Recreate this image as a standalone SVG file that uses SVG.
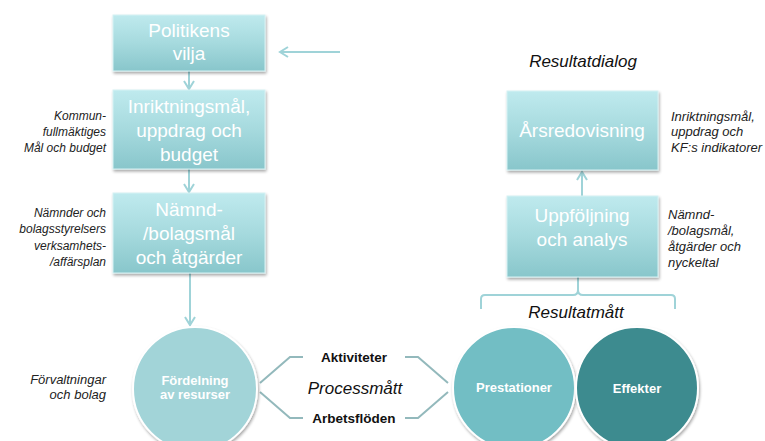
<svg xmlns="http://www.w3.org/2000/svg" width="765" height="441" viewBox="0 0 765 441">
<defs>
<linearGradient id="boxg" x1="0" y1="0" x2="0" y2="1">
<stop offset="0" stop-color="#bfeaee"/>
<stop offset="0.5" stop-color="#a6dade"/>
<stop offset="1" stop-color="#88c6cb"/>
</linearGradient>
<filter id="sh" x="-10%" y="-10%" width="125%" height="130%">
<feGaussianBlur in="SourceAlpha" stdDeviation="1.5"/>
<feOffset dx="1" dy="2" result="b"/>
<feComponentTransfer><feFuncA type="linear" slope="0.35"/></feComponentTransfer>
<feMerge><feMergeNode/><feMergeNode in="SourceGraphic"/></feMerge>
</filter>
<marker id="ah" markerWidth="12" markerHeight="12" refX="10" refY="6" orient="auto" markerUnits="userSpaceOnUse">
<path d="M2,1 L10,6 L2,11" fill="none" stroke="#9fd3d8" stroke-width="2"/>
</marker>
</defs>
<style>
.box{fill:url(#boxg);stroke:#d6f1f3;stroke-width:1;filter:url(#sh)}
.bt{font-family:"Liberation Sans",Arial,sans-serif;font-size:19px;fill:#ffffff;text-anchor:middle}
.lbl{font-family:"Liberation Sans",Arial,sans-serif;font-size:12px;font-style:italic;fill:#222}
.lbl13{font-family:"Liberation Sans",Arial,sans-serif;font-size:13px;font-style:italic;fill:#222}
.big{font-family:"Liberation Sans",Arial,sans-serif;font-size:17px;font-style:italic;fill:#111;text-anchor:middle}
.ct{font-family:"Liberation Sans",Arial,sans-serif;font-size:13px;font-weight:bold;fill:#ffffff;text-anchor:middle}
.pt{font-family:"Liberation Sans",Arial,sans-serif;font-size:13.5px;font-weight:bold;fill:#111;text-anchor:middle}
.con{fill:none;stroke:#9fd3d8;stroke-width:2}
.chev{fill:none;stroke:#93b9bc;stroke-width:2}
.circ{stroke:#ffffff;stroke-width:2;filter:url(#sh)}
</style>
<rect width="765" height="441" fill="#ffffff"/>

<g id="connectors">
<line class="con" x1="340" y1="52" x2="280" y2="52" marker-end="url(#ah)"/>
<line class="con" x1="189" y1="71" x2="189" y2="89" marker-end="url(#ah)"/>
<line class="con" x1="189" y1="169" x2="189" y2="192" marker-end="url(#ah)"/>
<line class="con" x1="190" y1="273" x2="190" y2="325" marker-end="url(#ah)"/>
<line class="con" x1="582" y1="196" x2="582" y2="172" marker-end="url(#ah)"/>
<line class="con" x1="578" y1="277" x2="578" y2="290"/>
<path class="con" d="M481,309 L481,299 Q481,295 485,295 L573,295 Q578,295 578,290 Q578,295 583,295 L671,295 Q675,295 675,299 L675,309"/>
<path class="chev" d="M303,357 L290,357 L260,383"/>
<path class="chev" d="M303,418 L290,418 L260,392"/>
<path class="chev" d="M405,357 L418,357 L448,383"/>
<path class="chev" d="M405,418 L418,418 L448,392"/>
</g>

<g id="politikens">
<rect class="box" x="113" y="15" width="152" height="56"/>
<text class="bt" x="189" y="37">Politikens</text>
<text class="bt" x="189" y="60">vilja</text>
</g>
<g id="inriktning">
<rect class="box" x="113" y="90" width="152" height="79"/>
<text class="bt" x="189" y="113">Inriktningsmål,</text>
<text class="bt" x="189" y="137">uppdrag och</text>
<text class="bt" x="189" y="161">budget</text>
</g>
<g id="namnd">
<rect class="box" x="113" y="193" width="152" height="80"/>
<text class="bt" x="189" y="216">Nämnd-</text>
<text class="bt" x="189" y="240">/bolagsmål</text>
<text class="bt" x="189" y="264">och åtgärder</text>
</g>
<g id="arsredovisning">
<rect class="box" x="507" y="91" width="151" height="79"/>
<text class="bt" x="582" y="137">Årsredovisning</text>
</g>
<g id="uppfoljning">
<rect class="box" x="507" y="196" width="151" height="81"/>
<text class="bt" x="582" y="222">Uppföljning</text>
<text class="bt" x="582" y="246">och analys</text>
</g>

<g id="fordelning">
<circle class="circ" cx="195" cy="389" r="62" fill="#a2d4d8"/>
<text class="ct" x="195" y="385">Fördelning</text>
<text class="ct" x="195" y="399">av resurser</text>
</g>
<g id="prestationer">
<circle class="circ" cx="514" cy="388" r="61" fill="#72bec4"/>
<text class="ct" x="514" y="392">Prestationer</text>
</g>
<g id="effekter">
<circle class="circ" cx="637" cy="388" r="61" fill="#3e8b8f"/>
<text class="ct" x="637" y="393">Effekter</text>
</g>

<g id="labels">
<text class="lbl" text-anchor="end"><tspan x="106" y="120">Kommun-</tspan><tspan x="106" y="136">fullmäktiges</tspan><tspan x="106" y="152">Mål och budget</tspan></text>
<text class="lbl" text-anchor="end"><tspan x="106" y="217">Nämnder och</tspan><tspan x="106" y="233">bolagsstyrelsers</tspan><tspan x="106" y="250">verksamhets-</tspan><tspan x="106" y="266">/affärsplan</tspan></text>
<text class="lbl13" text-anchor="end"><tspan x="106" y="384">Förvaltningar</tspan><tspan x="106" y="399">och bolag</tspan></text>
<text class="lbl13"><tspan x="671" y="121">Inriktningsmål,</tspan><tspan x="671" y="136">uppdrag och</tspan><tspan x="671" y="152">KF:s indikatorer</tspan></text>
<text class="lbl13"><tspan x="668" y="219">Nämnd-</tspan><tspan x="668" y="235">/bolagsmål,</tspan><tspan x="668" y="251">åtgärder och</tspan><tspan x="668" y="267">nyckeltal</tspan></text>
<text class="big" x="583" y="67">Resultatdialog</text>
<text class="big" x="576" y="318">Resultatmått</text>
<text class="big" x="355" y="394">Processmått</text>
<text class="pt" x="354" y="362">Aktiviteter</text>
<text class="pt" x="354" y="423">Arbetsflöden</text>
</g>
</svg>
